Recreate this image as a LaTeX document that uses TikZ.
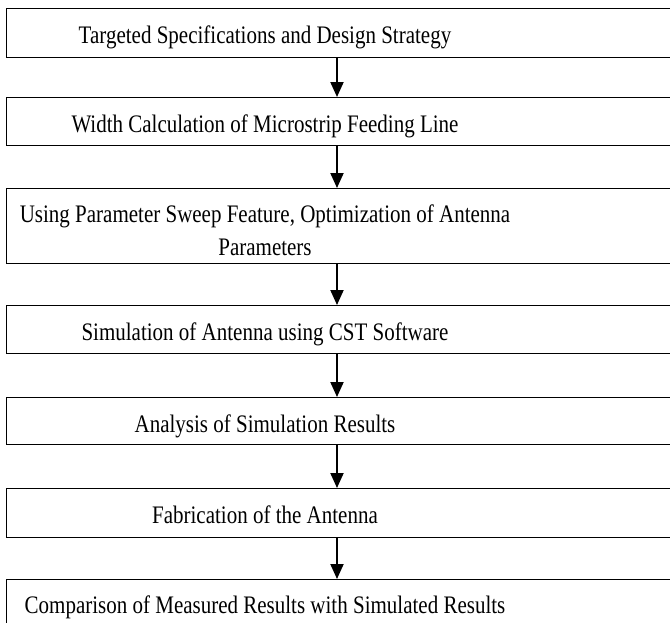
\documentclass[tikz,border=0pt]{standalone}
\usepackage{fontspec}
\setmainfont{Liberation Serif}
\usepackage{graphicx}
\usetikzlibrary{arrows.meta}
\newcommand{\tall}[1]{\scalebox{1}[1.2]{#1}}
\begin{document}
\begin{tikzpicture}[x=1pt, y=-1pt,
  frame/.style={draw, line width=1.3pt, rectangle, anchor=north west, minimum width=720pt, inner sep=0pt},
  steptext/.style={anchor=base, inner sep=0pt, font=\fontsize{21}{24}\selectfont},
  flow/.style={-{Triangle[width=13pt,length=15pt]}, line width=2pt}]
  \useasboundingbox (0,0) rectangle (670,622);
  \clip (0,0) rectangle (670,622);
  \node[frame, minimum height=49pt] (b1) at (6,8) {};
  \node[frame, minimum height=48pt] (b2) at (6,97) {};
  \node[frame, minimum height=75pt] (b3) at (6,188) {};
  \node[frame, minimum height=48pt] (b4) at (6,305) {};
  \node[frame, minimum height=47pt] (b5) at (6,397) {};
  \node[frame, minimum height=49pt] (b6) at (6,488) {};
  \node[frame, minimum height=80pt] (b7) at (6,579) {};
  \node[steptext] (t1) at (265,43) {\tall{Targeted Specifications and Design Strategy}};
  \node[steptext] (t2) at (265,132) {\tall{Width Calculation of Microstrip Feeding Line}};
  \node[steptext] (t3) at (265,222) {\tall{\begin{tabular}[t]{@{}c@{}}Using Parameter Sweep Feature, Optimization of Antenna\\[3.5pt] Parameters\end{tabular}}};
  \node[steptext] (t4) at (265,340) {\tall{Simulation of Antenna using CST Software}};
  \node[steptext] (t5) at (265,432) {\tall{Analysis of Simulation Results}};
  \node[steptext] (t6) at (265,523) {\tall{Fabrication of the Antenna}};
  \node[steptext] (t7) at (265,613) {\tall{Comparison of Measured Results with Simulated Results}};
  \coordinate (ax) at (337,0);
  \draw[flow] (b1.south -| ax) -- (b2.north -| ax);
  \draw[flow] (b2.south -| ax) -- (b3.north -| ax);
  \draw[flow] (b3.south -| ax) -- (b4.north -| ax);
  \draw[flow] (b4.south -| ax) -- (b5.north -| ax);
  \draw[flow] (b5.south -| ax) -- (b6.north -| ax);
  \draw[flow] (b6.south -| ax) -- (b7.north -| ax);
\end{tikzpicture}
\end{document}
